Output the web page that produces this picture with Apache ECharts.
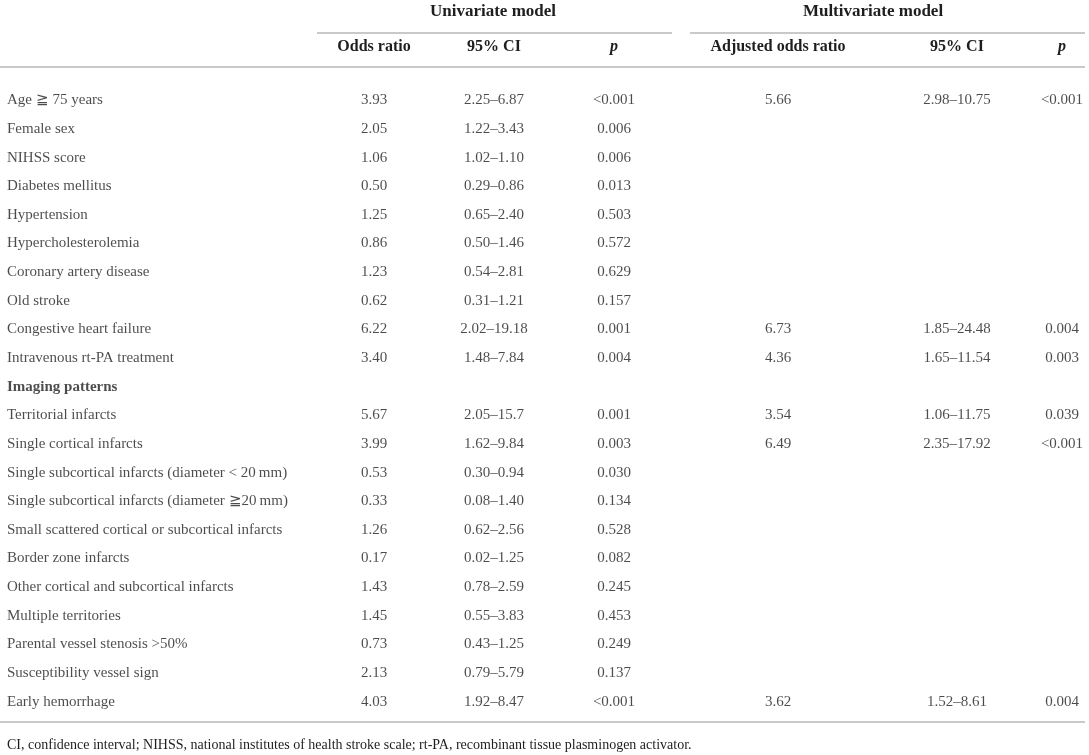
<!DOCTYPE html>
<html>
<head>
<meta charset="utf-8">
<script src="https://cdn.jsdelivr.net/npm/echarts@6/dist/echarts.min.js"></script>
<style>
  html, body { margin: 0; padding: 0; background: #fff; }
  #main { width: 1089px; height: 755px; }
</style>
</head>
<body>
<div id="main"></div>
<script>
// rows of the table
var rowLabels = ['Age \u2267 75 years', 'Female sex', 'NIHSS score', 'Diabetes mellitus', 'Hypertension',
    'Hypercholesterolemia', 'Coronary artery disease', 'Old stroke', 'Congestive heart failure',
    'Intravenous rt-PA treatment', 'Imaging patterns', 'Territorial infarcts', 'Single cortical infarcts',
    'Single subcortical infarcts (diameter < 20\u2009mm)', 'Single subcortical infarcts (diameter \u226720\u2009mm)',
    'Small scattered cortical or subcortical infarcts', 'Border zone infarcts',
    'Other cortical and subcortical infarcts', 'Multiple territories', 'Parental vessel stenosis >50%',
    'Susceptibility vessel sign', 'Early hemorrhage'];

// univariate model
var uniOR = [3.93, 2.05, 1.06, 0.50, 1.25, 0.86, 1.23, 0.62, 6.22, 3.40, null, 5.67, 3.99, 0.53, 0.33, 1.26, 0.17, 1.43, 1.45, 0.73, 2.13, 4.03];
var uniCI = ['2.25\u20136.87', '1.22\u20133.43', '1.02\u20131.10', '0.29\u20130.86', '0.65\u20132.40', '0.50\u20131.46',
    '0.54\u20132.81', '0.31\u20131.21', '2.02\u201319.18', '1.48\u20137.84', null, '2.05\u201315.7', '1.62\u20139.84',
    '0.30\u20130.94', '0.08\u20131.40', '0.62\u20132.56', '0.02\u20131.25', '0.78\u20132.59', '0.55\u20133.83',
    '0.43\u20131.25', '0.79\u20135.79', '1.92\u20138.47'];
var uniP = ['<0.001', '0.006', '0.006', '0.013', '0.503', '0.572', '0.629', '0.157', '0.001', '0.004', null,
    '0.001', '0.003', '0.030', '0.134', '0.528', '0.082', '0.245', '0.453', '0.249', '0.137', '<0.001'];

// multivariate model
var multiOR = [5.66, null, null, null, null, null, null, null, 6.73, 4.36, null, 3.54, 6.49, null, null, null, null, null, null, null, null, 3.62];
var multiCI = ['2.98\u201310.75', null, null, null, null, null, null, null, '1.85\u201324.48', '1.65\u201311.54', null,
    '1.06\u201311.75', '2.35\u201317.92', null, null, null, null, null, null, null, null, '1.52\u20138.61'];
var multiP = ['<0.001', null, null, null, null, null, null, null, '0.004', '0.003', null,
    '0.039', '<0.001', null, null, null, null, null, null, null, null, '0.004'];

var colHeaders = ['', 'Odds ratio', '95% CI', 'p', 'Adjusted odds ratio', '95% CI', 'p'];
var footnote = 'CI, confidence interval; NIHSS, national institutes of health stroke scale; rt-PA, recombinant tissue plasminogen activator.';

var boldRows = ['Imaging patterns'];

function fmt(v) {
    if (v == null) return null;
    return typeof v === 'number' ? v.toFixed(2) : v;
}

var columns = [
    rowLabels,
    uniOR.map(fmt), uniCI, uniP,
    multiOR.map(fmt), multiCI, multiP
];
// layout: centre of each column (first one is the left edge of the labels)
var colCenter = [7, 374, 494, 614, 778, 957, 1062];

var FONT = '"Liberation Serif", "DejaVu Serif", serif';
var TXT = '#1e1e1e';
var RULE = '#c9c9c9';

var grids = [], xAxes = [], yAxes = [], series = [];
columns.forEach(function (col, c) {
    grids.push({ left: colCenter[c] - 1, width: 2, top: 86, height: 630 });
    xAxes.push({ type: 'category', gridIndex: c, data: [colHeaders[c] || 'label'], show: false });
    yAxes.push({ type: 'category', gridIndex: c, data: rowLabels, inverse: true, show: false });
    var data = [];
    col.forEach(function (txt, i) {
        if (txt == null) return;
        var item = { value: [0, i], name: txt };
        if (c === 0 && boldRows.indexOf(txt) >= 0) item.label = { fontWeight: 'bold' };
        data.push(item);
    });
    series.push({
        type: 'scatter',
        xAxisIndex: c,
        yAxisIndex: c,
        symbolSize: 0,
        silent: true,
        data: data,
        label: {
            show: true,
            position: 'inside',
            align: c === 0 ? 'left' : 'center',
            verticalAlign: 'middle',
            fontFamily: FONT,
            fontSize: 15,
            color: TXT,
            formatter: function (p) { return p.name; }
        }
    });
});

var headStyle = { fontFamily: FONT, fontSize: 16, fontWeight: 'bold', fill: TXT, textAlign: 'center', textVerticalAlign: 'middle' };
var graphic = [
    { type: 'text', x: 493, y: 12, style: Object.assign({}, headStyle, { text: 'Univariate model', fontSize: 17 }) },
    { type: 'text', x: 873, y: 12, style: Object.assign({}, headStyle, { text: 'Multivariate model', fontSize: 17 }) },
    { type: 'line', shape: { x1: 317, y1: 33, x2: 672, y2: 33 }, style: { stroke: RULE, lineWidth: 2 } },
    { type: 'line', shape: { x1: 690, y1: 33, x2: 1085, y2: 33 }, style: { stroke: RULE, lineWidth: 2 } },
    { type: 'line', shape: { x1: 0, y1: 67, x2: 1085, y2: 67 }, style: { stroke: RULE, lineWidth: 2 } },
    { type: 'line', shape: { x1: 0, y1: 722, x2: 1085, y2: 722 }, style: { stroke: RULE, lineWidth: 2 } },
    { type: 'text', x: 7, y: 745, style: { text: footnote, fontFamily: FONT, fontSize: 14, fill: TXT, textAlign: 'left', textVerticalAlign: 'middle' } }
];
colHeaders.forEach(function (h, c) {
    if (!h) return;
    var st = Object.assign({}, headStyle, { text: h });
    if (h === 'p') st.fontStyle = 'italic';
    graphic.push({ type: 'text', x: colCenter[c], y: 47, style: st });
});

var myChart = echarts.init(document.getElementById('main'));
myChart.setOption({
    backgroundColor: '#fff',
    animation: false,
    grid: grids,
    xAxis: xAxes,
    yAxis: yAxes,
    series: series,
    graphic: graphic
});
</script>
</body>
</html>
